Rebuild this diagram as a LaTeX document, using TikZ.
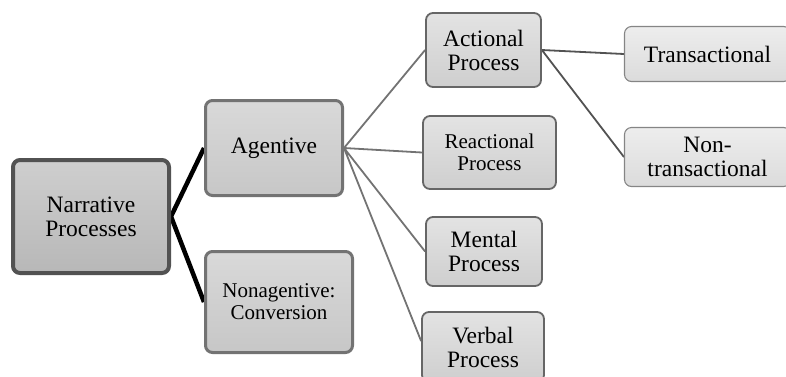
\documentclass[tikz,border=0pt]{standalone}
\usepackage{fontspec}
\setmainfont{Liberation Serif}
\newfontfamily\boxfont{Liberation Serif}
\usetikzlibrary{positioning}
\pgfdeclarelayer{bg}
\pgfsetlayers{bg,main}
\begin{document}
\begin{tikzpicture}[x=1pt,y=-1pt,
    box/.style={rectangle,rounded corners=7pt,align=center,inner sep=0pt,
      font=\boxfont\fontsize{23.5}{24}\selectfont},
    lvlone/.style={box,line width=4pt,draw=black!68,top color=black!19,bottom color=black!28},
    lvltwo/.style={box,line width=3pt,draw=black!55,top color=black!15,bottom color=black!22},
    lvlthree/.style={box,line width=1.8pt,draw=black!60,top color=black!11,bottom color=black!19},
    lvlfour/.style={box,line width=1.1pt,draw=black!48,top color=black!7,bottom color=black!14},
    small/.style={font=\boxfont\fontsize{21}{22}\selectfont},
    thickedge/.style={line width=4.5pt,black},
    edge/.style={line width=1.8pt,black!55},
    darkedge/.style={line width=1.8pt,black!68}
  ]
  \useasboundingbox (0,0) rectangle (786,376);
  \clip (0,0) rectangle (786,376);

  \node[lvlone,minimum width=156pt,minimum height=113pt] (NP) at (91,216.5) {Narrative\\Processes};
  \node[lvltwo,minimum width=137pt,minimum height=95pt] (AG) at (274,148) {Agentive};
  \node[lvltwo,small,minimum width=147pt,minimum height=101pt] (NA) at (279,302) {Nonagentive:\\Conversion};

  \node[lvlthree,minimum width=115pt,minimum height=74pt] (AP) at (483.5,50) {Actional\\Process};
  \node[lvlthree,small,minimum width=133pt,minimum height=73pt] (RP) at (489.5,152.5) {Reactional\\Process};
  \node[lvlthree,minimum width=116pt,minimum height=69pt] (MP) at (484,251.5) {Mental\\Process};
  \node[lvlthree,minimum width=122pt,minimum height=70pt] (VP) at (483,347) {Verbal\\Process};

  \node[lvlfour,minimum width=166pt,minimum height=55pt] (TR) at (707.5,54) {Transactional};
  \node[lvlfour,minimum width=166pt,minimum height=59pt] (NT) at (707.5,157) {Non-\\transactional};

  % connectors behind the boxes
  \begin{pgfonlayer}{bg}
    \draw[thickedge] (AG.west) -- (NP.east) -- (NA.west);
    \draw[edge] (AG.east) -- (AP.west)
      (AG.east) -- (RP.west)
      (AG.east) -- (MP.west)
      (AG.east) -- ([yshift=6pt]VP.west);
    \draw[darkedge] (AP.east) -- (TR.west)
      (AP.east) -- (NT.west);
  \end{pgfonlayer}
\end{tikzpicture}
\end{document}
